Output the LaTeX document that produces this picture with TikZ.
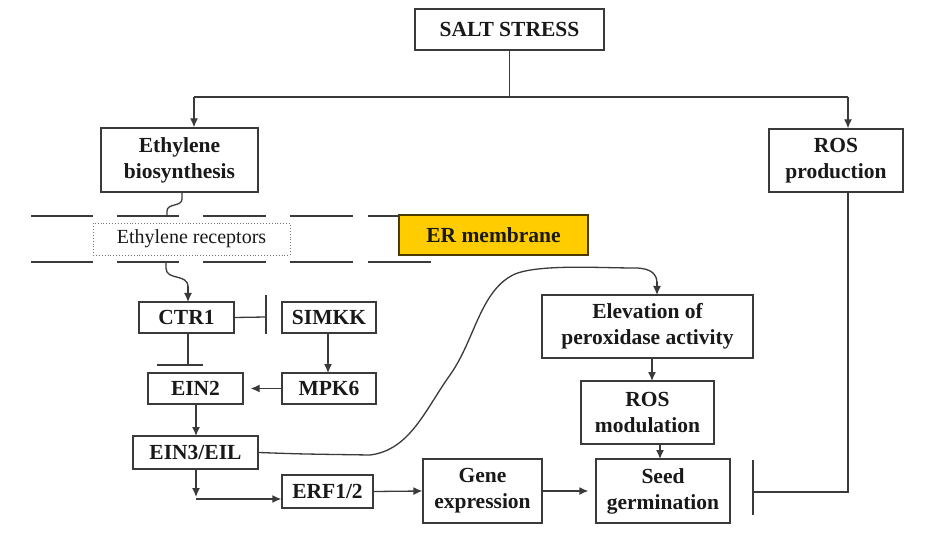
\documentclass[tikz,border=0pt]{standalone}
\usepackage{fontspec}
\setmainfont{Liberation Serif}
\usetikzlibrary{arrows.meta,calc}
\definecolor{ln}{HTML}{3A3A3A}
\definecolor{gold}{HTML}{FFCC00}
\definecolor{golddark}{HTML}{4A3A00}
\begin{document}
\begin{tikzpicture}[x=1pt,y=-1pt,
 box/.style={draw=ln, line width=1.3pt, fill=white, align=center,
   font=\fontsize{21.5}{26}\selectfont\bfseries, inner sep=0pt, text=black!90},
 arr/.style={draw=ln, line width=1.3pt, -{Latex[length=9pt,width=8pt]}},
 lnk/.style={draw=ln, line width=1.3pt},
 memb/.style={draw=ln, line width=1.4pt},
]
\useasboundingbox (0,0) rectangle (943,540);
\fill[white] (0,0) rectangle (943,540);

% nodes
\node[box, minimum width=189pt, minimum height=41pt] (salt) at (509.5,29.5) {SALT STRESS};
\node[box, minimum width=157pt, minimum height=64pt] (eth) at (179.5,160) {Ethylene\\biosynthesis};
\node[box, minimum width=134pt, minimum height=63pt] (rosp) at (836,160.5) {ROS\\production};
\node[draw=ln!70, dotted, line width=0.9pt, minimum width=197pt, minimum height=32pt, inner sep=0pt,
  font=\fontsize{20}{24}\selectfont, text=black!90] (rec) at (191.5,239) {Ethylene receptors};
\node[box, fill=gold, draw=golddark, minimum width=189pt, minimum height=40pt] (er) at (493.5,235) {ER membrane};
\node[box, minimum width=95pt, minimum height=31pt] (ctr1) at (186.5,317.5) {CTR1};
\node[box, minimum width=94pt, minimum height=31pt] (simkk) at (329,317.5) {SIMKK};
\node[box, minimum width=95pt, minimum height=31pt] (ein2) at (195.5,388.5) {EIN2};
\node[box, minimum width=94pt, minimum height=31pt] (mpk6) at (329,388.5) {MPK6};
\node[box, minimum width=125pt, minimum height=33pt] (ein3) at (195.5,452.5) {EIN3/EIL};
\node[box, minimum width=91pt, minimum height=33pt] (erf) at (327.5,491.5) {ERF1/2};
\node[box, minimum width=119pt, minimum height=64pt] (gene) at (482.5,491) {Gene\\expression};
\node[box, minimum width=134pt, minimum height=64pt] (seed) at (663,491) {Seed\\germination};
\node[box, minimum width=133pt, minimum height=63pt] (rosm) at (647.5,412.5) {ROS\\modulation};
\node[box, minimum width=211pt, minimum height=63pt] (elev) at (647.5,326.5) {Elevation of\\peroxidase activity};

% membrane dashes
\foreach \a/\b in {31/93,117/179,203/266,290/353,368/399}
  \draw[memb] (\a,216) -- (\b,216);
\foreach \a/\b in {31/93,117/179,203/266,290/353,368/431}
  \draw[memb] (\a,262) -- (\b,262);

% salt stress branching
\coordinate (j) at (salt.south |- 0,97);
\coordinate (jl) at (194,97);
\coordinate (jr) at (848,97);
\draw[lnk] (salt.south) -- (j);
\draw[lnk] (jl) -- (jr);
\draw[arr] (jl) -- (jl |- eth.north);
\draw[arr] (jr) -- (jr |- rosp.north);

% squiggles through membrane
\coordinate (s1) at (182,192);
\coordinate (s2) at (167,216);
\draw[lnk] (s1) -- (182,199) .. controls (182,207) and (167,203) .. (167,211) -- (s2);
\coordinate (s3) at (166,262);
\coordinate (s4) at (188,302);
\draw[lnk] (s3) -- (166,268) .. controls (166,281) and (188,273) .. (188,287);
\draw[arr] (188,286) -- (s4);

% CTR1 -| SIMKK
\coordinate (b1) at (266,317);
\draw[lnk] (ctr1.east) -- (b1);
\draw[lnk] ($(b1)+(0,-22)$) -- ($(b1)+(0,17)$);

% CTR1 -| EIN2
\coordinate (b2) at (188,365);
\draw[lnk] (b2 |- ctr1.south) -- (b2);
\draw[lnk] ($(b2)+(-31,0)$) -- ($(b2)+(15,0)$);

% SIMKK -> MPK6
\draw[arr] (328,333) -- (328,373);
% MPK6 -> EIN2
\draw[arr] (mpk6.west) -- ($(ein2.east)+(7,0)$);
% EIN2 -> EIN3
\draw[arr] (196,404) -- (196,436);
% EIN3 -> ERF
\coordinate (c1) at (196,499);
\draw[arr] (c1 |- ein3.south) -- (196,497);
\draw[arr] (c1) -- (c1 -| erf.west);
% ERF -> Gene -> Seed
\draw[arr] (erf.east) -- (gene.west);
\draw[arr] (gene.east) -- ($(seed.west)+(-7,0)$);
% Elev -> ROS mod -> Seed
\draw[arr] (652,358) -- (652,381);
\draw[arr] (660,444) -- (660,459);

% ROS production -| Seed
\coordinate (b3) at (753,492);
\draw[lnk] (jr |- rosp.south) -- (848,492) -- (b3);
\draw[lnk] (753,460) -- (753,515);

% EIN3 -> Elevation curve
\coordinate (e1) at (657,295);
\draw[lnk] (ein3.east) .. controls (300,454) .. (370,455)
  .. controls (410,450) and (425,410) .. (450,375)
  .. controls (475,340) and (480,290) .. (515,274)
  .. controls (540,264) and (600,268) .. (635,268)
  .. controls (652,268) and (657,275) .. (657,283);
\draw[arr] (657,282) -- (e1);
\end{tikzpicture}
\end{document}
